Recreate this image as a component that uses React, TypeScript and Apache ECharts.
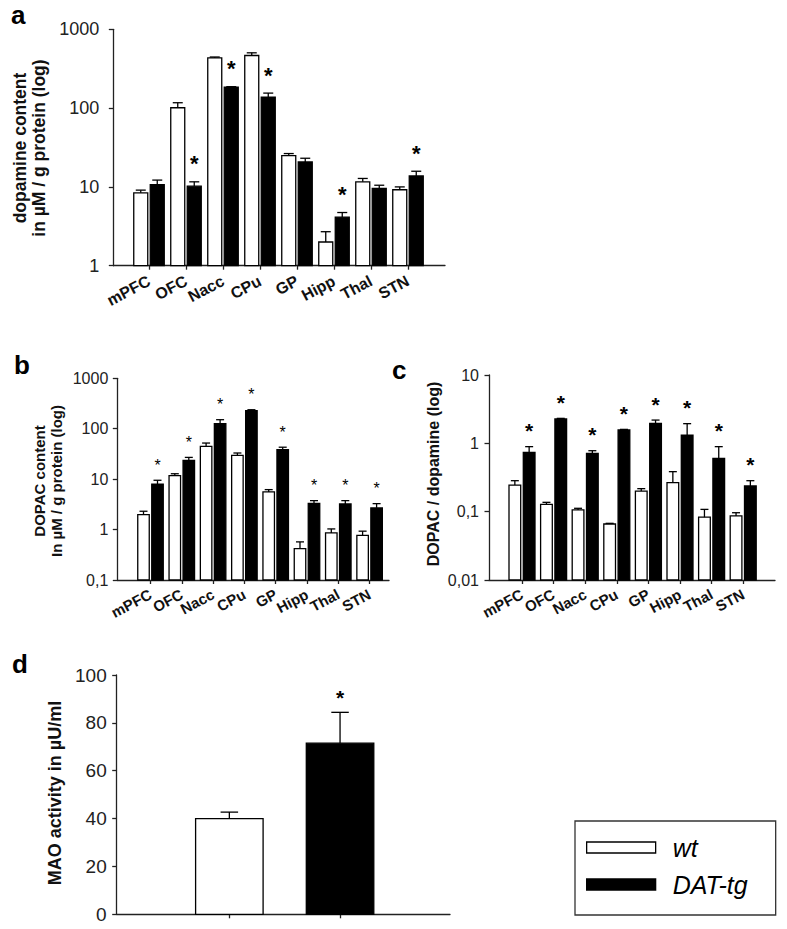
import React, { useEffect, useRef } from "react";
import * as echarts from "echarts";

const FONT = '"Liberation Sans", Arial, Helvetica, sans-serif';

// ---------- data ----------
const regions = ["mPFC", "OFC", "Nacc", "CPu", "GP", "Hipp", "Thal", "STN"];

// a: dopamine content (µM / g protein)
const daWt = [8.4, 101, 435, 465, 25, 2.0, 11.6, 9.2];
const daWtSem = [0.7, 16, 10, 38, 1.5, 0.7, 1.2, 0.8];
const daTg = [10.7, 10.2, 184, 138, 20.7, 4.13, 9.55, 13.8];
const daTgSem = [1.5, 1.4, 3, 17, 2.4, 0.6, 0.95, 2.0];
const daSig = [0, 1, 1, 1, 0, 1, 0, 1];

// b: DOPAC content (µM / g protein)
const dpWt = [1.98, 11.7, 44.7, 29.6, 5.57, 0.42, 0.86, 0.77];
const dpWtSem = [0.33, 1.1, 7.3, 3.4, 0.63, 0.15, 0.17, 0.16];
const dpTg = [8.0, 23.6, 126, 227, 38.4, 3.32, 3.22, 2.69];
const dpTgSem = [1.5, 3.4, 25, 11, 4.6, 0.43, 0.53, 0.58];
const dpSig = [1, 1, 1, 1, 1, 1, 1, 1];

// c: DOPAC / dopamine
const rWt = [0.245, 0.128, 0.106, 0.066, 0.2, 0.266, 0.083, 0.0865];
const rWtSem = [0.039, 0.009, 0.006, 0.0015, 0.017, 0.119, 0.025, 0.01];
const rTg = [0.738, 2.27, 0.714, 1.57, 1.96, 1.32, 0.603, 0.238];
const rTgSem = [0.156, 0.05, 0.066, 0.03, 0.23, 0.62, 0.291, 0.046];
const rSig = [1, 1, 1, 1, 1, 1, 1, 1];

// d: MAO activity (µU/ml)
const maoGroups = ["wt", "DAT-tg"];
const maoMean = [40, 71.5];
const maoSem = [2.7, 12.9];
const maoSig = [0, 1];

// ---------- helpers ----------
const rows = (mean: number[], sem: number[], sig: number[]) =>
  mean.map((m, i) => [i, m, m + sem[i], sig[i]]);

function barRenderer(o: {
  barW: number;
  gap: number;
  side: number;
  capW: number;
  fill: string;
  starFont: string;
  starGap: number;
}) {
  return (params: any, api: any) => {
    const i = api.value(0);
    const v = api.value(1);
    const t = api.value(2);
    const s = api.value(3);
    const pv = api.coord([i, v]);
    const pt = api.coord([i, t]);
    const cs = params.coordSys;
    const bottom = cs.y + cs.height;
    const cx = pv[0] + (o.side * (o.barW + o.gap)) / 2;
    const children: any[] = [
      {
        type: "rect",
        shape: { x: cx - o.barW / 2, y: pv[1], width: o.barW, height: bottom - pv[1] },
        style: { fill: o.fill, stroke: "#000", lineWidth: 1.3 },
      },
      {
        type: "line",
        shape: { x1: cx, y1: pv[1], x2: cx, y2: pt[1] },
        style: { stroke: "#000", lineWidth: 1.3 },
      },
      {
        type: "line",
        shape: { x1: cx - o.capW / 2, y1: pt[1], x2: cx + o.capW / 2, y2: pt[1] },
        style: { stroke: "#000", lineWidth: 1.3 },
      },
    ];
    if (s) {
      children.push({
        type: "text",
        x: cx,
        y: pt[1] - o.starGap,
        style: {
          text: "*",
          font: o.starFont,
          fill: "#000",
          align: "center",
          verticalAlign: "middle",
          textAlign: "center",
          textVerticalAlign: "middle",
        },
      });
    }
    return { type: "group", children };
  };
}

const AX = "#222";
const commaFmt = (v: number) => String(Number(v.toPrecision(6))).replace(".", ",");

function outerAxes(grid: number, y: any, labelSize: number, labelMargin: number) {
  return {
    x: {
      type: "value",
      gridIndex: grid,
      min: 0,
      max: 1,
      axisLine: { show: true, onZero: false, lineStyle: { color: AX, width: 1.3 } },
      axisTick: { show: false },
      axisLabel: { show: false },
      splitLine: { show: false },
    },
    y: {
      gridIndex: grid,
      ...y,
      axisLine: { show: true, onZero: false, lineStyle: { color: AX, width: 1.3 } },
      axisTick: { show: true, length: 4.5, lineStyle: { color: AX, width: 1.3 } },
      axisLabel: {
        color: "#222",
        fontSize: labelSize,
        fontFamily: FONT,
        margin: labelMargin,
        formatter: y.type === "log" ? commaFmt : undefined,
      },
      splitLine: { show: false },
    },
  };
}

function innerAxes(grid: number, cats: string[], y: any, lbl: any) {
  return {
    x: {
      type: "category",
      gridIndex: grid,
      data: cats,
      boundaryGap: true,
      axisLine: { show: false },
      axisTick: { show: true, alignWithLabel: true, length: 4, lineStyle: { color: AX, width: 1.3 } },
      axisLabel: lbl,
      splitLine: { show: false },
    },
    y: { gridIndex: grid, ...y, show: false, splitLine: { show: false } },
  };
}

const catLabel = (size: number, rotate: number, margin: number) => ({
  show: true,
  interval: 0,
  rotate,
  fontSize: size,
  fontWeight: "bold",
  fontFamily: FONT,
  color: "#111",
  margin,
});

export default function App() {
  const ref = useRef<HTMLDivElement>(null);

  useEffect(() => {
    if (!ref.current) return;
    const chart = echarts.init(ref.current, null, { renderer: "svg" });

    const yA = { type: "log", logBase: 10, min: 1, max: 1000 };
    const yB = { type: "log", logBase: 10, min: 0.1, max: 1000 };
    const yC = { type: "log", logBase: 10, min: 0.01, max: 10 };
    const yD = { type: "value", min: 0, max: 100, interval: 20 };

    const grids = [
      { left: 113.3, top: 29.3, width: 331.7, height: 236.4 },
      { left: 130.5, top: 29.3, width: 296, height: 236.4 },
      { left: 117.3, top: 378.3, width: 271.7, height: 201.7 },
      { left: 134.85, top: 378.3, width: 250.4, height: 201.7 },
      { left: 489, top: 375, width: 286, height: 205 },
      { left: 506.2, top: 375, width: 252.8, height: 205 },
      { left: 116.7, top: 675, width: 333.3, height: 239.3 },
      { left: 174, top: 675, width: 221.4, height: 239.3 },
    ];

    const oa = outerAxes(0, yA, 18, 14);
    const ia = innerAxes(1, regions, yA, catLabel(16, 28, 14));
    const ob = outerAxes(2, yB, 16, 9);
    const ib = innerAxes(3, regions, yB, catLabel(15, 28, 13));
    const oc = outerAxes(4, yC, 16, 10);
    const ic = innerAxes(5, regions, yC, catLabel(15, 28, 13));
    const od = outerAxes(6, yD, 19, 10);
    const id = innerAxes(7, maoGroups, yD, { show: false });

    const xAxis = [oa.x, ia.x, ob.x, ib.x, oc.x, ic.x, od.x, id.x];
    const yAxis = [oa.y, ia.y, ob.y, ib.y, oc.y, ic.y, od.y, id.y];

    const mk = (name: string, axis: number, data: any[], r: any, fill: string) => ({
      name,
      type: "custom",
      xAxisIndex: axis,
      yAxisIndex: axis,
      data,
      encode: { x: 0, y: 1 },
      renderItem: r,
      itemStyle: { color: fill, borderColor: "#000", borderWidth: 1.3 },
      clip: false,
    });

    const starBig = `bold 22px ${FONT}`;
    const starMid = `bold 21px ${FONT}`;
    const starSmall = `16px ${FONT}`;
    const none = regions.map(() => 0);

    const series = [
      mk("wt", 1, rows(daWt, daWtSem, none),
        barRenderer({ barW: 14, gap: 2.5, side: -1, capW: 10, fill: "#fff", starFont: starBig, starGap: 18 }), "#fff"),
      mk("DAT-tg", 1, rows(daTg, daTgSem, daSig),
        barRenderer({ barW: 14, gap: 2.5, side: 1, capW: 10, fill: "#000", starFont: starBig, starGap: 18 }), "#000"),
      mk("wt", 3, rows(dpWt, dpWtSem, none),
        barRenderer({ barW: 11.5, gap: 2.5, side: -1, capW: 8, fill: "#fff", starFont: starSmall, starGap: 15 }), "#fff"),
      mk("DAT-tg", 3, rows(dpTg, dpTgSem, dpSig),
        barRenderer({ barW: 11.5, gap: 2.5, side: 1, capW: 8, fill: "#000", starFont: starSmall, starGap: 15 }), "#000"),
      mk("wt", 5, rows(rWt, rWtSem, none),
        barRenderer({ barW: 11.7, gap: 2.6, side: -1, capW: 8, fill: "#fff", starFont: starMid, starGap: 16 }), "#fff"),
      mk("DAT-tg", 5, rows(rTg, rTgSem, rSig),
        barRenderer({ barW: 11.7, gap: 2.6, side: 1, capW: 8, fill: "#000", starFont: starMid, starGap: 16 }), "#000"),
      mk("wt", 7, [[0, maoMean[0], maoMean[0] + maoSem[0], maoSig[0]]],
        barRenderer({ barW: 67.5, gap: 0, side: 0, capW: 17.5, fill: "#fff", starFont: starMid, starGap: 15 }), "#fff"),
      mk("DAT-tg", 7, [[1, maoMean[1], maoMean[1] + maoSem[1], maoSig[1]]],
        barRenderer({ barW: 67.5, gap: 0, side: 0, capW: 17.5, fill: "#000", starFont: starMid, starGap: 15 }), "#000"),
    ];

    const title = (x: number, y: number, text: string, size: number, lh: number) => ({
      type: "text",
      x,
      y,
      rotation: Math.PI / 2,
      style: {
        text,
        font: `bold ${size}px ${FONT}`,
        fill: "#111",
        align: "center",
        verticalAlign: "middle",
        lineHeight: lh,
      },
    });
    const letter = (x: number, y: number, text: string) => ({
      type: "text",
      x,
      y,
      style: { text, font: `bold 26px ${FONT}`, fill: "#000", align: "left", verticalAlign: "top" },
    });

    chart.setOption({
      animation: false,
      backgroundColor: "#fff",
      grid: grids.map((g) => ({ ...g, containLabel: false })),
      xAxis,
      yAxis,
      series,
      legend: {
        show: true,
        orient: "vertical",
        left: 575,
        top: 821,
        icon: "rect",
        itemWidth: 69,
        itemHeight: 11,
        itemGap: 12,
        selectedMode: false,
        borderColor: "#333",
        borderWidth: 1.3,
        padding: [14, 28, 18, 11],
        textStyle: { fontSize: 25, fontStyle: "italic", color: "#000", fontFamily: FONT, padding: [0, 0, 0, 12] },
        data: [
          { name: "wt", itemStyle: { color: "#fff", borderColor: "#000", borderWidth: 1.3 } },
          { name: "DAT-tg", itemStyle: { color: "#000", borderColor: "#000", borderWidth: 1.3 } },
        ],
      },
      graphic: [
        letter(11, 2, "a"),
        letter(14, 352, "b"),
        letter(392, 357, "c"),
        letter(12, 651, "d"),
        title(29.5, 148, "dopamine content\nin µM / g protein (log)", 17.5, 19),
        title(48, 481, "DOPAC content\nIn µM / g protein (log)", 15, 17.5),
        title(433, 474, "DOPAC / dopamine (log)", 16, 18),
        title(55, 793, "MAO activity in µU/ml", 18, 20),
      ],
    });

    return () => chart.dispose();
  }, []);

  return (
    <div
      ref={ref}
      style={{ position: "absolute", left: 0, top: 0, width: 787, height: 929, background: "#fff" }}
    />
  );
}
